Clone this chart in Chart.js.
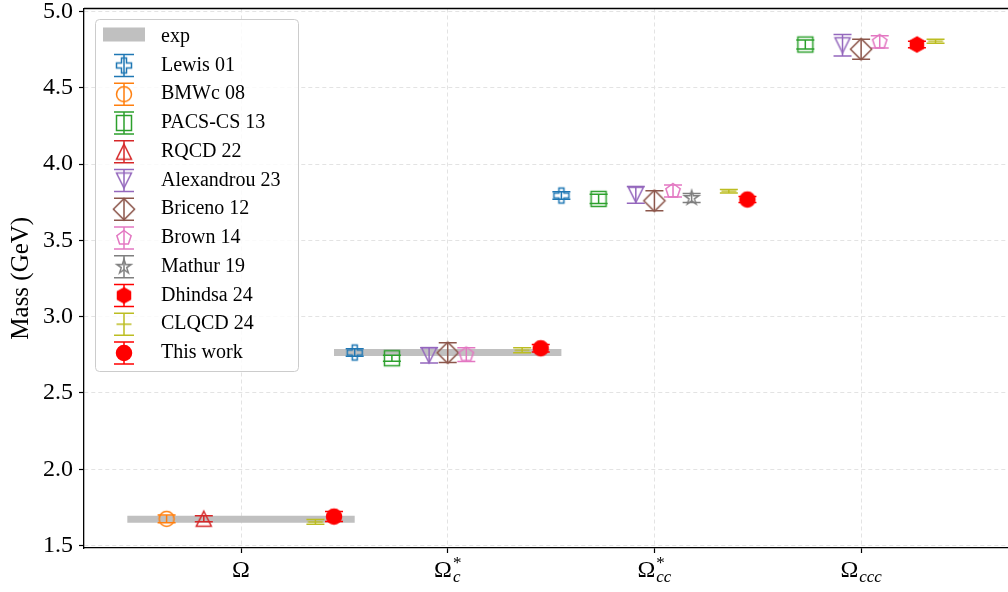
<!DOCTYPE html>
<html>
<head>
<meta charset="utf-8">
<script src="https://cdn.jsdelivr.net/npm/chart.js@4/dist/chart.umd.min.js"></script>
<style>
  html, body { margin: 0; padding: 0; overflow: hidden; background: #ffffff; }
  #wrap { width: 1040px; height: 592px; position: relative; }
</style>
</head>
<body>
<div id="wrap"><canvas id="chart" width="1040" height="592"></canvas></div>
<script>
// ---- data -------------------------------------------------------------
// Baryon states on the x axis (index 0..3): Omega, Omega_c*, Omega_cc*, Omega_ccc
const stateBase = ['Ω', 'Ω', 'Ω', 'Ω'];
const stateSub  = ['', 'c', 'cc', 'ccc'];
const stateSup  = ['', '*', '*', ''];

// experimental masses (GeV); null where no measurement exists
const expMass = [1.672, 2.766, null, null];

// lattice results (GeV) and their uncertainties
const lewisMass   = [null, 2.765, 3.794, null];
const lewisErr    = [0, 0.025, 0.025, 0];
const bmwcMass    = [1.675, null, null, null];
const bmwcErr     = [0.026, 0, 0, 0];
const pacsMass    = [null, 2.728, 3.772, 4.784];
const pacsErr     = [0, 0.02, 0.03, 0.03];
const rqcdMass    = [1.676, null, null, null];
const rqcdErr     = [0.02, 0, 0, 0];
const alexMass    = [null, 2.747, 3.799, 4.779];
const alexErr     = [0, 0.05, 0.055, 0.07];
const briceMass   = [null, 2.764, 3.760, 4.753];
const briceErr    = [0, 0.065, 0.065, 0.065];
const brownMass   = [null, 2.752, 3.824, 4.801];
const brownErr    = [0, 0.045, 0.04, 0.04];
const mathurMass  = [null, null, 3.778, null];
const mathurErr   = [0, 0, 0.03, 0];
const dhindsaMass = [null, null, null, 4.784];
const dhindsaErr  = [0, 0, 0, 0.022];
const clqcdMass   = [1.655, 2.780, 3.822, 4.805];
const clqcdErr    = [0.016, 0.016, 0.011, 0.013];
const thisMass    = [1.690, 2.793, 3.768, null];
const thisErr     = [0.033, 0.025, 0.02, 0];

const seriesNames  = ['Lewis 01', 'BMWc 08', 'PACS-CS 13', 'RQCD 22', 'Alexandrou 23',
                      'Briceno 12', 'Brown 14', 'Mathur 19', 'Dhindsa 24', 'CLQCD 24', 'This work'];
const seriesMass   = [lewisMass, bmwcMass, pacsMass, rqcdMass, alexMass,
                      briceMass, brownMass, mathurMass, dhindsaMass, clqcdMass, thisMass];
const seriesErr    = [lewisErr, bmwcErr, pacsErr, rqcdErr, alexErr,
                      briceErr, brownErr, mathurErr, dhindsaErr, clqcdErr, thisErr];
const seriesColor  = ['#1f77b4', '#ff7f0e', '#2ca02c', '#d62728', '#9467bd',
                      '#8c564b', '#e377c2', '#7f7f7f', '#ff0000', '#bcbd22', '#ff0000'];
const seriesMarker = ['plus', 'circle', 'square', 'triUp', 'triDown',
                      'diamond', 'pentagon', 'star', 'hexagon', 'hline', 'circle'];
const seriesFilled = [false, false, false, false, false, false, false, false, true, false, true];

const yTickValues = [1.5, 2.0, 2.5, 3.0, 3.5, 4.0, 4.5, 5.0];

// ---- styling ----------------------------------------------------------
const SERIF = "'Liberation Serif', 'DejaVu Serif', serif";
const MARK_HALF = 7.5;      // half marker size in px
const CAP_HALF = 9;         // half width of error-bar caps
const SPREAD = 0.09;        // horizontal spacing between series inside a group
const EXP_HALF = 0.55;      // half length of the experimental band

function markerPath(ctx, shape, s) {
  ctx.beginPath();
  const poly = (n, r) => {
    for (let k = 0; k < n; k++) {
      const a = -Math.PI / 2 + k * 2 * Math.PI / n;
      const px = r * Math.cos(a), py = r * Math.sin(a);
      if (k === 0) ctx.moveTo(px, py); else ctx.lineTo(px, py);
    }
    ctx.closePath();
  };
  switch (shape) {
    case 'circle': ctx.arc(0, 0, s, 0, Math.PI * 2); break;
    case 'square': ctx.rect(-s, -s, 2 * s, 2 * s); break;
    case 'triUp': ctx.moveTo(0, -s); ctx.lineTo(s, s); ctx.lineTo(-s, s); ctx.closePath(); break;
    case 'triDown': ctx.moveTo(0, s); ctx.lineTo(s, -s); ctx.lineTo(-s, -s); ctx.closePath(); break;
    case 'diamond': {
      const d = s * Math.SQRT2;
      ctx.moveTo(0, -d); ctx.lineTo(d, 0); ctx.lineTo(0, d); ctx.lineTo(-d, 0); ctx.closePath();
      break;
    }
    case 'pentagon': poly(5, s); break;
    case 'hexagon': poly(6, s); break;
    case 'star': {
      const inner = s * 0.381966;
      for (let k = 0; k < 10; k++) {
        const r = k % 2 === 0 ? s : inner;
        const a = -Math.PI / 2 + k * Math.PI / 5;
        const px = r * Math.cos(a), py = r * Math.sin(a);
        if (k === 0) ctx.moveTo(px, py); else ctx.lineTo(px, py);
      }
      ctx.closePath();
      break;
    }
    case 'plus': {
      const a = s / 3;
      const pts = [[-a,-s],[a,-s],[a,-a],[s,-a],[s,a],[a,a],[a,s],[-a,s],[-a,a],[-s,a],[-s,-a],[-a,-a]];
      pts.forEach((p, k) => k === 0 ? ctx.moveTo(p[0], p[1]) : ctx.lineTo(p[0], p[1]));
      ctx.closePath();
      break;
    }
    case 'hline': ctx.moveTo(-s, 0); ctx.lineTo(s, 0); break;
  }
}

function makeMarker(shape, color, filled) {
  const size = 32;
  const c = document.createElement('canvas');
  c.width = size; c.height = size;
  const ctx = c.getContext('2d');
  ctx.translate(size / 2, size / 2);
  ctx.lineWidth = 1.5;
  ctx.strokeStyle = color;
  ctx.fillStyle = color;
  markerPath(ctx, shape, MARK_HALF);
  if (filled) ctx.fill();
  ctx.stroke();
  return c;
}

const markerImages = seriesMarker.map((m, k) => makeMarker(m, seriesColor[k], seriesFilled[k]));

// ---- datasets ---------------------------------------------------------
const expPoints = [];
expMass.forEach((m, i) => {
  if (m === null) return;
  expPoints.push({ x: i - EXP_HALF, y: m }, { x: i + EXP_HALF, y: m }, { x: i + 0.5, y: null });
});

const datasets = [{
  type: 'line',
  label: 'exp',
  data: expPoints,
  borderColor: '#c0c0c0',
  borderWidth: 7,
  borderCapStyle: 'butt',
  pointRadius: 0,
  spanGaps: false,
  order: 1000
}];

seriesNames.forEach((name, k) => {
  const pts = [];
  seriesMass[k].forEach((m, i) => {
    if (m === null) return;
    pts.push({ x: i + (k - 5) * SPREAD, y: m, err: seriesErr[k][i] });
  });
  datasets.push({
    type: 'scatter',
    label: name,
    data: pts,
    pointStyle: markerImages[k],
    pointRadius: MARK_HALF,
    borderColor: seriesColor[k],
    backgroundColor: seriesColor[k],
    order: 100 - k
  });
});

// ---- plugins ----------------------------------------------------------
const errorBars = {
  id: 'errorBars',
  afterDatasetDraw(chart, args) {
    if (chart.data.datasets[args.index].label !== 'exp') return;
    const ctx = chart.ctx, xs = chart.scales.x, ys = chart.scales.y;
    ctx.save();
    ctx.lineWidth = 1.5;
    chart.data.datasets.forEach((ds, k) => {
      if (ds.type !== 'scatter') return;
      ctx.strokeStyle = ds.borderColor;
      ds.data.forEach(p => {
        if (!p.err) return;
        const px = xs.getPixelForValue(p.x);
        const y1 = ys.getPixelForValue(p.y + p.err);
        const y2 = ys.getPixelForValue(p.y - p.err);
        ctx.beginPath();
        ctx.moveTo(px, y1); ctx.lineTo(px, y2);
        ctx.moveTo(px - CAP_HALF, y1); ctx.lineTo(px + CAP_HALF, y1);
        ctx.moveTo(px - CAP_HALF, y2); ctx.lineTo(px + CAP_HALF, y2);
        ctx.stroke();
      });
    });
    ctx.restore();
  }
};

const frameAndLabels = {
  id: 'frameAndLabels',
  afterDraw(chart) {
    const ctx = chart.ctx, area = chart.chartArea, xs = chart.scales.x;
    ctx.save();
    // top spine
    ctx.strokeStyle = '#000';
    ctx.lineWidth = 1.3;
    ctx.beginPath();
    ctx.moveTo(area.left, area.top); ctx.lineTo(area.right, area.top);
    ctx.stroke();

    // x tick labels with sub- and superscripts
    ctx.fillStyle = '#000';
    ctx.textBaseline = 'alphabetic';
    const baseFont = '24px ' + SERIF;
    const subFont = 'italic 17px ' + SERIF;
    const supFont = '17px ' + SERIF;
    stateBase.forEach((b, i) => {
      ctx.font = baseFont;
      const wb = ctx.measureText(b).width;
      ctx.font = subFont;
      const ws = ctx.measureText(stateSub[i]).width;
      ctx.font = supFont;
      const wu = ctx.measureText(stateSup[i]).width;
      const total = wb + Math.max(ws, wu) + (ws || wu ? 1 : 0);
      const cx = xs.getPixelForValue(i);
      let x0 = cx - total / 2;
      const base = 577;
      ctx.font = baseFont;
      ctx.textAlign = 'left';
      ctx.fillText(b, x0, base);
      if (stateSub[i]) { ctx.font = subFont; ctx.fillText(stateSub[i], x0 + wb + 1, base + 5); }
      if (stateSup[i]) { ctx.font = supFont; ctx.fillText(stateSup[i], x0 + wb + 1, base - 9); }
    });

    // legend
    const lx = 95.5, ly = 19.5, lw = 203, lh = 352, r = 4;
    ctx.beginPath();
    ctx.moveTo(lx + r, ly);
    ctx.arcTo(lx + lw, ly, lx + lw, ly + lh, r);
    ctx.arcTo(lx + lw, ly + lh, lx, ly + lh, r);
    ctx.arcTo(lx, ly + lh, lx, ly, r);
    ctx.arcTo(lx, ly, lx + lw, ly, r);
    ctx.closePath();
    ctx.fillStyle = 'rgba(255,255,255,0.8)';
    ctx.fill();
    ctx.strokeStyle = '#cccccc';
    ctx.lineWidth = 1;
    ctx.stroke();

    const rowY = k => 36.7 + k * 28.75;
    const gx = 124, tx = 161;
    ctx.font = '20px ' + SERIF;
    ctx.textBaseline = 'middle';
    ctx.textAlign = 'left';
    // experimental band entry
    ctx.fillStyle = '#c0c0c0';
    ctx.fillRect(103, 27.5, 42, 14);
    ctx.fillStyle = '#000';
    ctx.fillText('exp', tx, rowY(0));
    seriesNames.forEach((name, k) => {
      const y = rowY(k + 1);
      ctx.strokeStyle = seriesColor[k];
      ctx.lineWidth = 1.5;
      ctx.beginPath();
      ctx.moveTo(gx, y - 11); ctx.lineTo(gx, y + 11);
      ctx.moveTo(gx - 10, y - 11); ctx.lineTo(gx + 10, y - 11);
      ctx.moveTo(gx - 10, y + 11); ctx.lineTo(gx + 10, y + 11);
      ctx.stroke();
      const img = markerImages[k];
      ctx.drawImage(img, gx - img.width / 2, y - img.height / 2);
      ctx.fillStyle = '#000';
      ctx.fillText(name, tx, y);
    });
    ctx.restore();
  }
};

// ---- chart ------------------------------------------------------------
new Chart(document.getElementById('chart'), {
  data: { datasets },
  options: {
    responsive: false,
    devicePixelRatio: 1,
    animation: false,
    layout: { padding: { top: 8, right: 10, left: 0, bottom: 0 } },
    plugins: { legend: { display: false }, tooltip: { enabled: false } },
    scales: {
      x: {
        type: 'linear',
        min: -0.7596,
        max: 3.817,
        afterBuildTicks: s => { s.ticks = stateBase.map((_, i) => ({ value: i })); },
        afterFit: s => { s.height = 44; s.paddingLeft = 0; s.paddingRight = 0; },
        ticks: { display: false },
        grid: {
          color: '#e3e3e3', lineWidth: 1, tickLength: 5,
          tickColor: '#000', tickWidth: 1.2
        },
        border: { display: true, color: '#000', width: 1.3, dash: [4, 3] }
      },
      y: {
        type: 'linear',
        min: 1.484,
        max: 5.02,
        afterBuildTicks: s => { s.ticks = yTickValues.map(v => ({ value: v })); },
        afterFit: s => { s.width = 84; s.paddingTop = 0; s.paddingBottom = 0; },
        ticks: {
          color: '#000',
          padding: 6,
          font: { family: SERIF, size: 24 },
          callback: v => Number(v).toFixed(1)
        },
        grid: {
          color: '#e3e3e3', lineWidth: 1, tickLength: 5,
          tickColor: '#000', tickWidth: 1.2
        },
        border: { display: true, color: '#000', width: 1.3, dash: [4, 3] },
        title: {
          display: true,
          text: 'Mass (GeV)',
          color: '#000',
          font: { family: SERIF, size: 25 },
          padding: { top: 6, bottom: 0 }
        }
      }
    }
  },
  plugins: [errorBars, frameAndLabels]
});
</script>
</body>
</html>
